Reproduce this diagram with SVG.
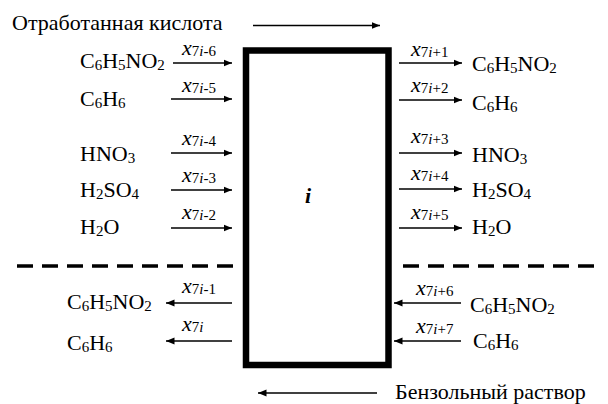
<svg xmlns="http://www.w3.org/2000/svg" width="608" height="404" viewBox="0 0 608 404">
<defs>
<marker id="ah" markerUnits="userSpaceOnUse" markerWidth="9" markerHeight="8" refX="8.5" refY="4" orient="auto">
<path d="M0,0.5 L8.5,4 L0,7.5 z" fill="#000"/>
</marker>
</defs>
<rect width="608" height="404" fill="#fff"/>

<g id="box">
<rect x="246" y="50.5" width="142.5" height="314.5" fill="#fff" stroke="#000" stroke-width="6.5"/>
<text x="305" y="203" font-family="Liberation Serif" font-size="22" font-weight="bold" font-style="italic">i</text>
</g>

<g id="titles">
<text x="12" y="30" font-family="Liberation Serif" font-size="22">Отработанная кислота</text>
<text x="395" y="399" font-family="Liberation Serif" font-size="22">Бензольный раствор</text>
</g>

<g id="inputs-left">
<text x="80" y="68" font-family="Liberation Serif" font-size="22">C<tspan font-size="15" dy="2">6</tspan><tspan dy="-2">H</tspan><tspan font-size="15" dy="2">5</tspan><tspan dy="-2">NO</tspan><tspan font-size="15" dy="2">2</tspan></text>
<text x="80" y="106" font-family="Liberation Serif" font-size="22">C<tspan font-size="15" dy="2">6</tspan><tspan dy="-2">H</tspan><tspan font-size="15" dy="2">6</tspan></text>
<text x="80" y="161" font-family="Liberation Serif" font-size="22">HNO<tspan font-size="15" dy="2">3</tspan></text>
<text x="80" y="197" font-family="Liberation Serif" font-size="22">H<tspan font-size="15" dy="2">2</tspan><tspan dy="-2">SO</tspan><tspan font-size="15" dy="2">4</tspan></text>
<text x="80" y="234" font-family="Liberation Serif" font-size="22">H<tspan font-size="15" dy="2">2</tspan><tspan dy="-2">O</tspan></text>
<text x="182" y="55" font-family="Liberation Serif" font-size="22" font-style="italic">x<tspan font-size="15" font-style="normal" dy="1">7<tspan font-style="italic">i</tspan>-6</tspan></text>
<text x="182" y="92" font-family="Liberation Serif" font-size="22" font-style="italic">x<tspan font-size="15" font-style="normal" dy="1">7<tspan font-style="italic">i</tspan>-5</tspan></text>
<text x="182" y="145" font-family="Liberation Serif" font-size="22" font-style="italic">x<tspan font-size="15" font-style="normal" dy="1">7<tspan font-style="italic">i</tspan>-4</tspan></text>
<text x="182" y="182" font-family="Liberation Serif" font-size="22" font-style="italic">x<tspan font-size="15" font-style="normal" dy="1">7<tspan font-style="italic">i</tspan>-3</tspan></text>
<text x="182" y="219" font-family="Liberation Serif" font-size="22" font-style="italic">x<tspan font-size="15" font-style="normal" dy="1">7<tspan font-style="italic">i</tspan>-2</tspan></text>
</g>

<g id="outputs-right">
<text x="472" y="71" font-family="Liberation Serif" font-size="22">C<tspan font-size="15" dy="2">6</tspan><tspan dy="-2">H</tspan><tspan font-size="15" dy="2">5</tspan><tspan dy="-2">NO</tspan><tspan font-size="15" dy="2">2</tspan></text>
<text x="472" y="110" font-family="Liberation Serif" font-size="22">C<tspan font-size="15" dy="2">6</tspan><tspan dy="-2">H</tspan><tspan font-size="15" dy="2">6</tspan></text>
<text x="472" y="162" font-family="Liberation Serif" font-size="22">HNO<tspan font-size="15" dy="2">3</tspan></text>
<text x="472" y="197" font-family="Liberation Serif" font-size="22">H<tspan font-size="15" dy="2">2</tspan><tspan dy="-2">SO</tspan><tspan font-size="15" dy="2">4</tspan></text>
<text x="472" y="234" font-family="Liberation Serif" font-size="22">H<tspan font-size="15" dy="2">2</tspan><tspan dy="-2">O</tspan></text>
<text x="411" y="56" font-family="Liberation Serif" font-size="22" font-style="italic">x<tspan font-size="15" font-style="normal" dy="1">7<tspan font-style="italic">i</tspan>+1</tspan></text>
<text x="411" y="92" font-family="Liberation Serif" font-size="22" font-style="italic">x<tspan font-size="15" font-style="normal" dy="1">7<tspan font-style="italic">i</tspan>+2</tspan></text>
<text x="411" y="143" font-family="Liberation Serif" font-size="22" font-style="italic">x<tspan font-size="15" font-style="normal" dy="1">7<tspan font-style="italic">i</tspan>+3</tspan></text>
<text x="411" y="180" font-family="Liberation Serif" font-size="22" font-style="italic">x<tspan font-size="15" font-style="normal" dy="1">7<tspan font-style="italic">i</tspan>+4</tspan></text>
<text x="411" y="219" font-family="Liberation Serif" font-size="22" font-style="italic">x<tspan font-size="15" font-style="normal" dy="1">7<tspan font-style="italic">i</tspan>+5</tspan></text>
</g>

<g id="outputs-left">
<text x="67" y="309" font-family="Liberation Serif" font-size="22">C<tspan font-size="15" dy="2">6</tspan><tspan dy="-2">H</tspan><tspan font-size="15" dy="2">5</tspan><tspan dy="-2">NO</tspan><tspan font-size="15" dy="2">2</tspan></text>
<text x="67" y="350" font-family="Liberation Serif" font-size="22">C<tspan font-size="15" dy="2">6</tspan><tspan dy="-2">H</tspan><tspan font-size="15" dy="2">6</tspan></text>
<text x="182" y="293" font-family="Liberation Serif" font-size="22" font-style="italic">x<tspan font-size="15" font-style="normal" dy="1">7<tspan font-style="italic">i</tspan>-1</tspan></text>
<text x="182" y="331" font-family="Liberation Serif" font-size="22" font-style="italic">x<tspan font-size="15" font-style="normal" dy="1">7<tspan font-style="italic">i</tspan></tspan></text>
</g>

<g id="inputs-right">
<text x="470" y="312" font-family="Liberation Serif" font-size="22">C<tspan font-size="15" dy="2">6</tspan><tspan dy="-2">H</tspan><tspan font-size="15" dy="2">5</tspan><tspan dy="-2">NO</tspan><tspan font-size="15" dy="2">2</tspan></text>
<text x="473" y="348" font-family="Liberation Serif" font-size="22">C<tspan font-size="15" dy="2">6</tspan><tspan dy="-2">H</tspan><tspan font-size="15" dy="2">6</tspan></text>
<text x="416" y="295" font-family="Liberation Serif" font-size="22" font-style="italic">x<tspan font-size="15" font-style="normal" dy="1">7<tspan font-style="italic">i</tspan>+6</tspan></text>
<text x="416" y="333" font-family="Liberation Serif" font-size="22" font-style="italic">x<tspan font-size="15" font-style="normal" dy="1">7<tspan font-style="italic">i</tspan>+7</tspan></text>
</g>

<g id="separators" stroke="#000" stroke-width="3.5" stroke-dasharray="16 9" fill="none">
<line x1="17" y1="266" x2="236" y2="266"/>
<line x1="403" y1="266" x2="600" y2="266"/>
</g>

<g id="connectors" stroke="#000" stroke-width="1.4" fill="none" marker-end="url(#ah)">
<line x1="253" y1="25.5" x2="380" y2="25.5"/>
<line x1="377" y1="393" x2="258" y2="393"/>
<line x1="173" y1="63" x2="232" y2="63"/>
<line x1="171" y1="99" x2="232" y2="99"/>
<line x1="171" y1="153" x2="232" y2="153"/>
<line x1="171" y1="190" x2="232" y2="190"/>
<line x1="171" y1="228" x2="232" y2="228"/>
<line x1="399" y1="63" x2="462" y2="63"/>
<line x1="399" y1="100" x2="462" y2="100"/>
<line x1="399" y1="153" x2="462" y2="153"/>
<line x1="399" y1="189" x2="462" y2="189"/>
<line x1="399" y1="228" x2="462" y2="228"/>
<line x1="232" y1="303" x2="166" y2="303"/>
<line x1="232" y1="341" x2="166" y2="341"/>
<line x1="461" y1="303" x2="394" y2="303"/>
<line x1="461" y1="341" x2="394" y2="341"/>
</g>
</svg>
